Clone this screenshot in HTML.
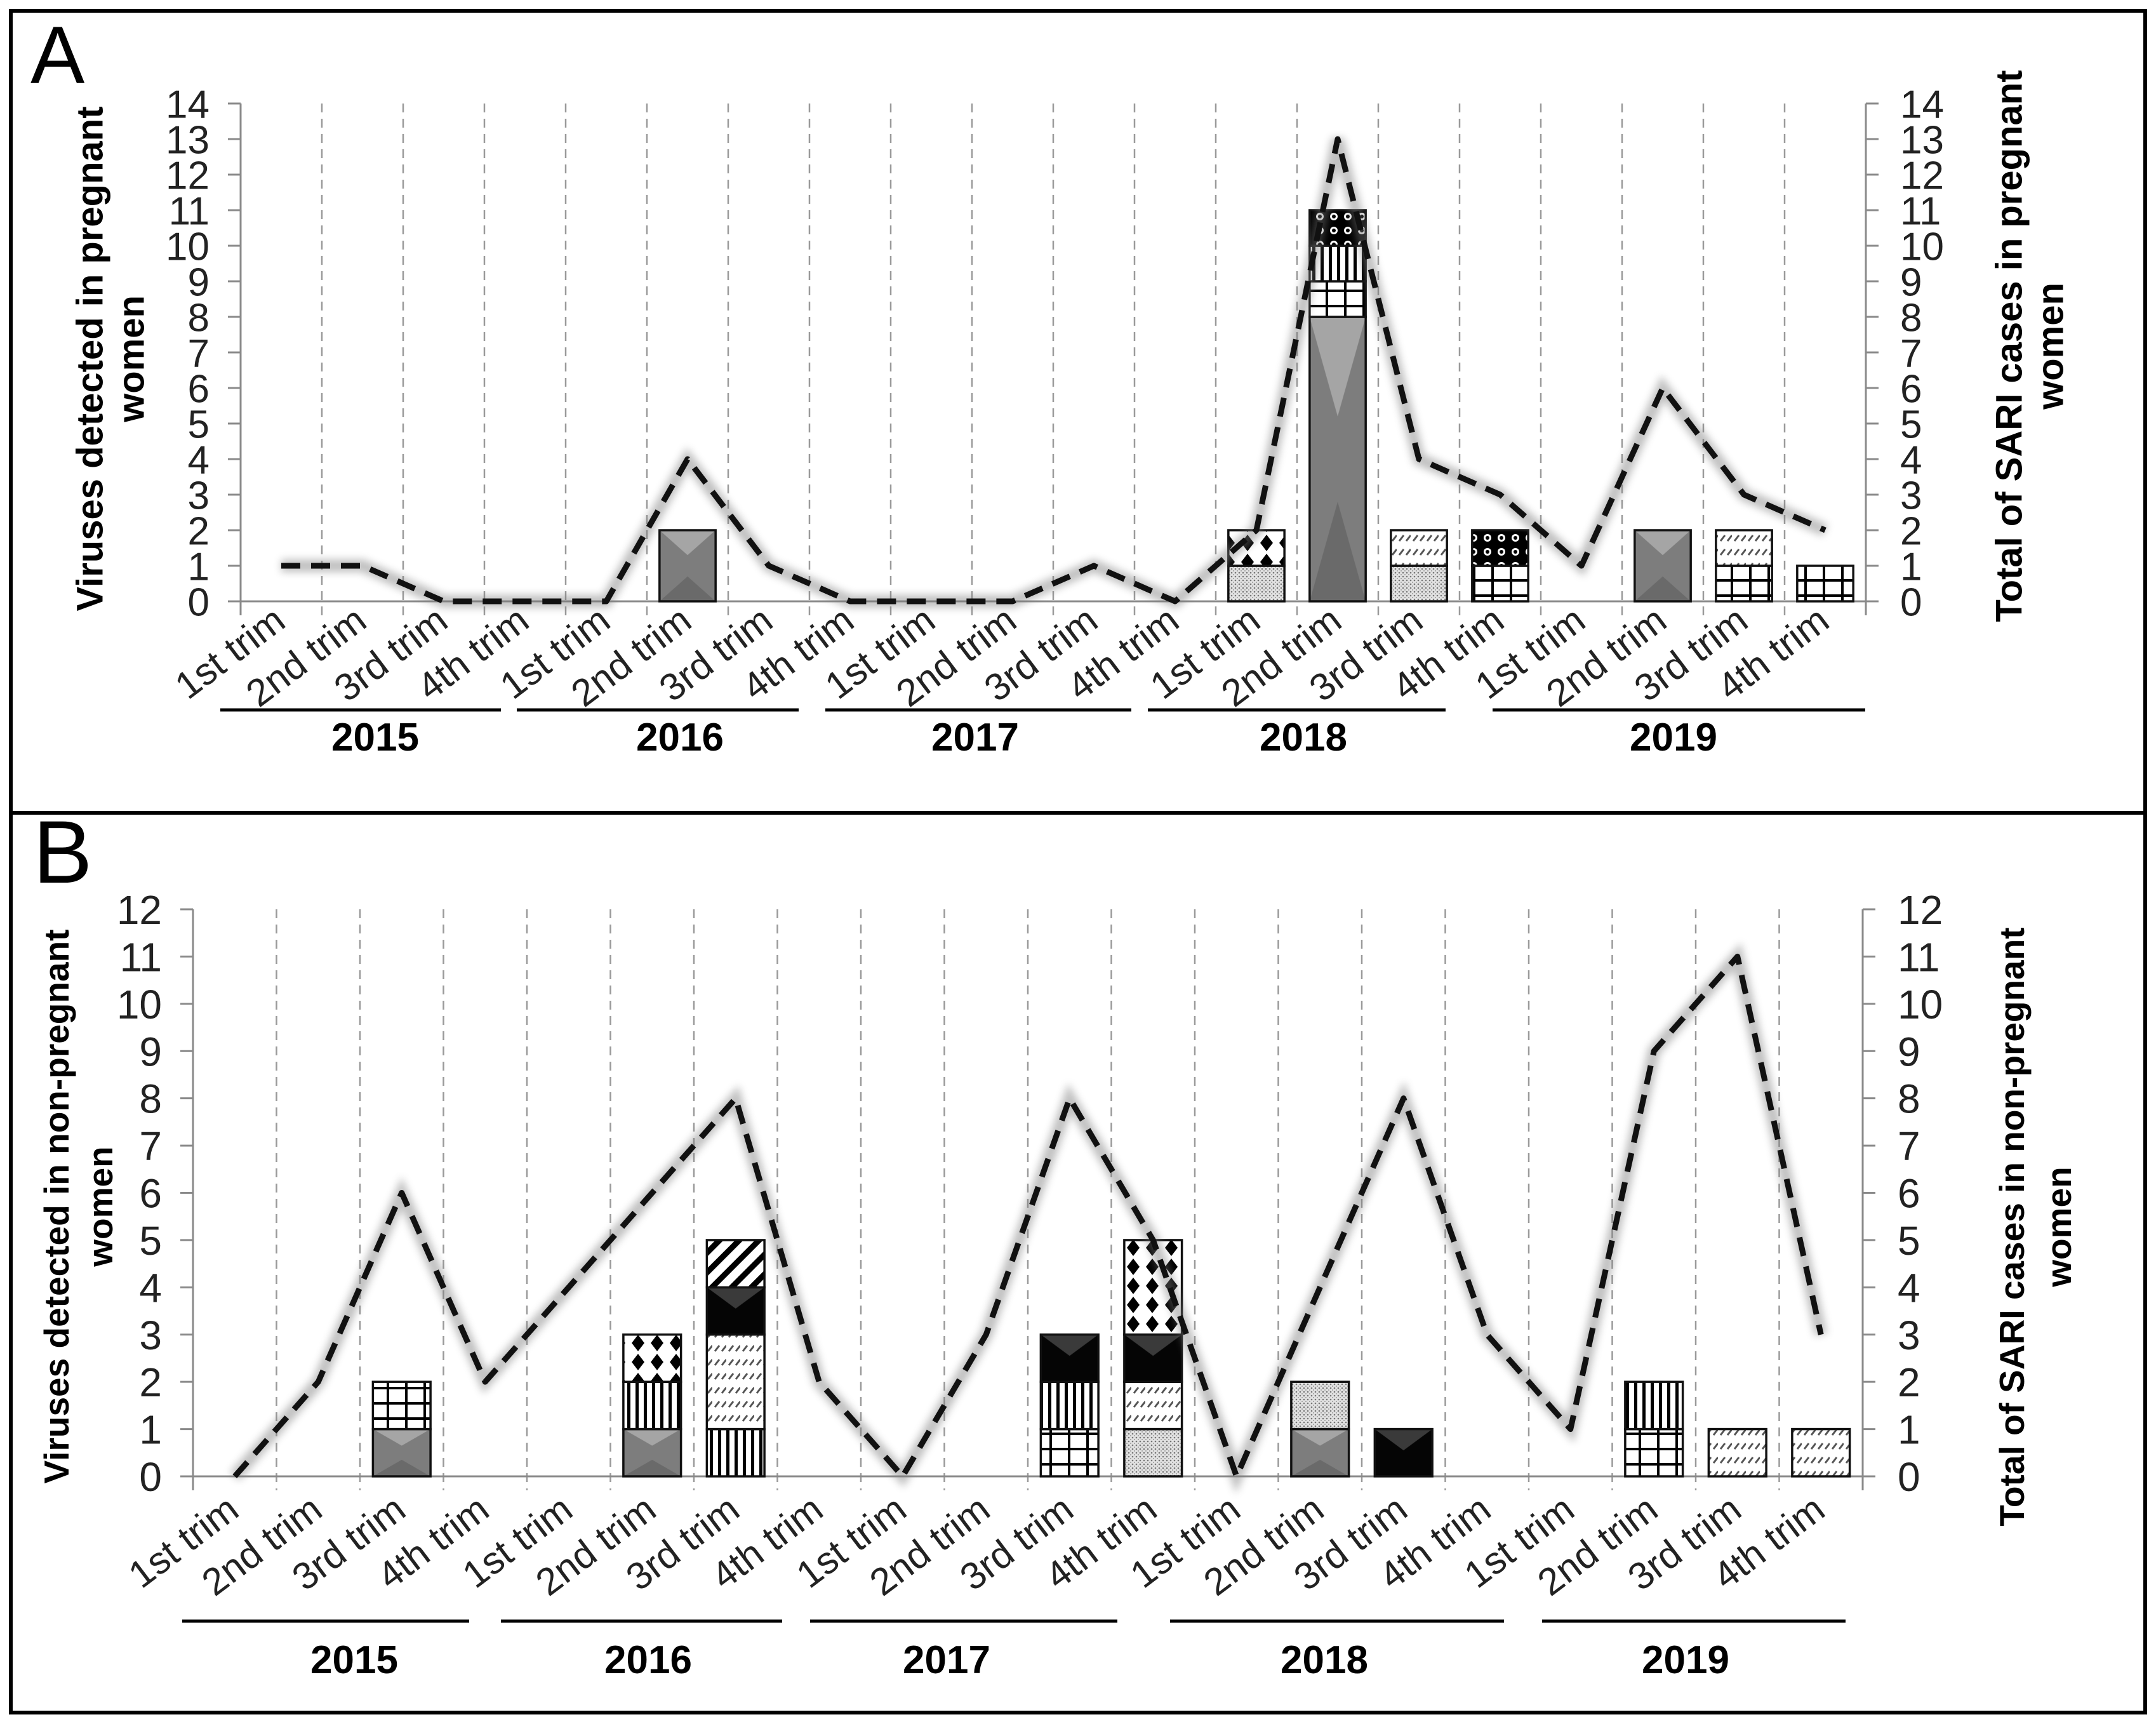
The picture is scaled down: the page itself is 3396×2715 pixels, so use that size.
<!DOCTYPE html>
<html><head><meta charset="utf-8"><style>
html,body{margin:0;padding:0;background:#fff;}
svg{display:block;font-family:"Liberation Sans",Arial,sans-serif;}
</style></head><body>
<svg id="fig" xmlns="http://www.w3.org/2000/svg" width="3396" height="2715" viewBox="0 0 3396 2715">
<defs>
<pattern id="pGray" patternUnits="objectBoundingBox" width="1" height="1" patternContentUnits="objectBoundingBox"><rect width="1" height="1" fill="#7d7d7d"/><polygon points="0,0 1,0 0.5,0.35" fill="#a5a5a5"/><polygon points="0,1 1,1 0.5,0.65" fill="#6a6a6a"/></pattern>
<pattern id="pBlack" patternUnits="objectBoundingBox" width="1" height="1" patternContentUnits="objectBoundingBox"><rect width="1" height="1" fill="#050505"/><polygon points="0,0 1,0 0.5,0.45" fill="#3a3a3a"/></pattern>
<pattern id="pGrid" patternUnits="userSpaceOnUse" width="29" height="24"><rect width="29" height="24" fill="#fff"/><rect x="0" y="0" width="29" height="4" fill="#000"/><rect x="0" y="0" width="4" height="24" fill="#000"/></pattern>
<pattern id="pVstripes" patternUnits="userSpaceOnUse" width="13" height="10"><rect width="13" height="10" fill="#fff"/><rect x="0" y="0" width="5" height="10" fill="#000"/></pattern>
<pattern id="pDiamonds" patternUnits="userSpaceOnUse" width="30" height="30"><rect width="30" height="30" fill="#fff"/><polygon points="15,2 25,15 15,28 5,15" fill="#000"/></pattern>
<pattern id="pDots" patternUnits="userSpaceOnUse" width="6" height="6"><rect width="6" height="6" fill="#e2e2e2"/><circle cx="2" cy="2" r="1.3" fill="#777"/><circle cx="5" cy="5" r="1" fill="#999"/></pattern>
<pattern id="pCircles" patternUnits="userSpaceOnUse" width="22" height="22"><rect width="22" height="22" fill="#000"/><circle cx="11" cy="11" r="6" fill="#fff"/><circle cx="11" cy="11" r="3" fill="#000"/></pattern>
<pattern id="pHatch" patternUnits="userSpaceOnUse" width="22" height="22"><rect width="22" height="22" fill="#fff"/><line x1="4" y1="16" x2="11" y2="7" stroke="#555" stroke-width="3"/><line x1="15" y1="16" x2="22" y2="7" stroke="#555" stroke-width="3"/></pattern>
<pattern id="pBolddiag" patternUnits="userSpaceOnUse" width="22" height="22" patternTransform="rotate(45)"><rect width="22" height="22" fill="#fff"/><rect x="0" y="0" width="9" height="22" fill="#000"/></pattern>
<filter id="blur" x="-10%" y="-10%" width="120%" height="120%"><feGaussianBlur stdDeviation="6"/></filter>
</defs>
<rect x="17" y="17" width="3362" height="2680" fill="none" stroke="#000" stroke-width="6"/>
<line x1="17" y1="1280" x2="3379" y2="1280" stroke="#000" stroke-width="6"/>
<text x="48" y="131" font-size="128">A</text>
<text x="52" y="1390" font-size="140">B</text>
<g id="panels"></g>
</svg>
<script>
const trims = ["1st trim","2nd trim","3rd trim","4th trim"];
const years = ["2015","2016","2017","2018","2019"];
const sariA = [1,1,0,0, 0,4,1,0, 0,0,1,0, 2,13,4,3, 1,6,3,2];
const sariB = [0,2,6,2, 4,6,8,2, 0,3,8,5, 0,4,8,3, 1,9,11,3];
const seriesNames = ["gray","dots","grid","vstripes","hatch","black","diamonds","circles","bolddiag"];
const grayA     = [0,0,0,0, 0,2,0,0, 0,0,0,0, 0,8,0,0, 0,2,0,0];
const dotsA     = [0,0,0,0, 0,0,0,0, 0,0,0,0, 1,0,1,0, 0,0,0,0];
const gridA     = [0,0,0,0, 0,0,0,0, 0,0,0,0, 0,1,0,1, 0,0,1,1];
const vstripesA = [0,0,0,0, 0,0,0,0, 0,0,0,0, 0,1,0,0, 0,0,0,0];
const hatchA    = [0,0,0,0, 0,0,0,0, 0,0,0,0, 0,0,1,0, 0,0,1,0];
const blackA    = [0,0,0,0, 0,0,0,0, 0,0,0,0, 0,0,0,0, 0,0,0,0];
const diamondsA = [0,0,0,0, 0,0,0,0, 0,0,0,0, 1,0,0,0, 0,0,0,0];
const circlesA  = [0,0,0,0, 0,0,0,0, 0,0,0,0, 0,1,0,1, 0,0,0,0];
const bolddiagA = [0,0,0,0, 0,0,0,0, 0,0,0,0, 0,0,0,0, 0,0,0,0];
const grayB     = [0,0,1,0, 0,1,0,0, 0,0,0,0, 0,1,0,0, 0,0,0,0];
const dotsB     = [0,0,0,0, 0,0,0,0, 0,0,0,1, 0,1,0,0, 0,0,0,0];
const gridB     = [0,0,1,0, 0,0,0,0, 0,0,1,0, 0,0,0,0, 0,1,0,0];
const vstripesB = [0,0,0,0, 0,1,1,0, 0,0,1,0, 0,0,0,0, 0,1,0,0];
const hatchB    = [0,0,0,0, 0,0,2,0, 0,0,0,1, 0,0,0,0, 0,0,1,1];
const blackB    = [0,0,0,0, 0,0,1,0, 0,0,1,1, 0,0,1,0, 0,0,0,0];
const diamondsB = [0,0,0,0, 0,1,0,0, 0,0,0,2, 0,0,0,0, 0,0,0,0];
const circlesB  = [0,0,0,0, 0,0,0,0, 0,0,0,0, 0,0,0,0, 0,0,0,0];
const bolddiagB = [0,0,0,0, 0,0,1,0, 0,0,0,0, 0,0,0,0, 0,0,0,0];

const NS="http://www.w3.org/2000/svg";
const root=document.getElementById('panels');
function el(tag,attrs,parent){const e=document.createElementNS(NS,tag);for(const k in attrs)e.setAttribute(k,attrs[k]);(parent||root).appendChild(e);return e;}
const fills={gray:"url(#pGray)",dots:"url(#pDots)",grid:"url(#pGrid)",vstripes:"url(#pVstripes)",hatch:"url(#pHatch)",black:"url(#pBlack)",diamonds:"url(#pDiamonds)",circles:"url(#pCircles)",bolddiag:"url(#pBolddiag)"};

function panel(cfg){
  const g=el('g',{});
  
  
  const n=20, cw=(cfg.x1-cfg.x0)/n;
  const xs=i=>cfg.x0+cw*(i+0.5);
  const ys=v=>cfg.y0-(cfg.y0-cfg.yTop)*v/cfg.max;
  for(let i=1;i<n;i++){
    const x=cfg.x0+cw*i;
    const l=el('line',{x1:x,y1:cfg.yTop,x2:x,y2:cfg.y0+22,stroke:"#9a9a9a","stroke-width":2.5,"stroke-dasharray":"14 10"},g);
    
    
  }
  const ax=el('path',{d:`M${cfg.x0},${cfg.yTop} L${cfg.x0},${cfg.y0} L${cfg.x1},${cfg.y0} L${cfg.x1},${cfg.yTop}`,fill:"none",stroke:"#8a8a8a","stroke-width":3},g);
  
  
  for(let v=0;v<=cfg.max;v++){
    const y=ys(v);
    el('line',{x1:cfg.x0-20,y1:y,x2:cfg.x0,y2:y,stroke:"#8a8a8a","stroke-width":3},g);
    el('line',{x1:cfg.x1,y1:y,x2:cfg.x1+20,y2:y,stroke:"#8a8a8a","stroke-width":3},g);
    const tl=el('text',{x:cfg.lx,y:y+cfg.fs*0.36,"font-size":cfg.fs,"text-anchor":"end",fill:"#222"},g);
    tl.textContent=v;
    
    
    const tr=el('text',{x:cfg.rx,y:y+cfg.fs*0.36,"font-size":cfg.fs,"text-anchor":"start",fill:"#222"},g);
    tr.textContent=v;
    
    
  }
  el('line',{x1:cfg.x0,y1:cfg.y0,x2:cfg.x0,y2:cfg.y0+22,stroke:"#8a8a8a","stroke-width":3},g);
  el('line',{x1:cfg.x1,y1:cfg.y0,x2:cfg.x1,y2:cfg.y0+22,stroke:"#8a8a8a","stroke-width":3},g);
  const bw=cw*0.69;
  for(let i=0;i<n;i++){
    let acc=0;
    seriesNames.forEach(s=>{
      const v=cfg.series[s][i];
      if(!v)return;
      const yTopB=ys(acc+v), yBot=ys(acc);
      const r=el('rect',{x:xs(i)-bw/2,y:yTopB,width:bw,height:yBot-yTopB,fill:fills[s],stroke:"#111","stroke-width":3.5},g);
      
      
      acc+=v;
    });
  }
  const pts=cfg.sari.map((v,i)=>xs(i)+","+ys(v)).join(" ");
  el('polyline',{points:pts,fill:"none",stroke:"#777","stroke-width":20,opacity:0.45,filter:"url(#blur)"},g);
  const pl=el('polyline',{points:pts,fill:"none",stroke:"#111","stroke-width":9,"stroke-dasharray":"30 17","stroke-linejoin":"round"},g);
  
  
  for(let i=0;i<n;i++){
    const x=xs(i)+10, y=cfg.labY;
    const t=el('text',{x:x,y:y,"font-size":cfg.xfs,"text-anchor":"end",fill:"#222",transform:`rotate(${cfg.ang} ${x} ${y})`},g);
    t.textContent=trims[i%4];
    
    
  }
  years.forEach((yr,k)=>{
    const [a,b]=cfg.yearLines[k];
    const l=el('line',{x1:a,y1:cfg.yearLineY,x2:b,y2:cfg.yearLineY,stroke:"#000","stroke-width":5},g);
    
    
    const t=el('text',{x:cfg.yearX[k],y:cfg.yearY,"font-size":cfg.yfs,"font-weight":"bold","text-anchor":"middle",fill:"#000"},g);
    t.textContent=yr;
    
    
  });
  function title(lines,xs2,cy,nm){
    lines.forEach((s,k)=>{
      const t=el('text',{x:xs2[k],y:cy,"font-size":cfg.tfs,"font-weight":"bold","text-anchor":"middle",fill:"#000",transform:`rotate(-90 ${xs2[k]} ${cy})`,"dominant-baseline":"central"},g);
      t.textContent=s;
      
      
    });
  }
  title(cfg.ltitle,cfg.ltx,cfg.lty,'left-axis-title');
  title(cfg.rtitle,cfg.rtx,cfg.rty,'right-axis-title');
}

panel({name:"panel-a",x0:379,x1:2939,yTop:163,y0:947,max:14,fs:62,lx:330,rx:2993,
  sari:sariA,
  series:{gray:grayA,dots:dotsA,grid:gridA,vstripes:vstripesA,hatch:hatchA,black:blackA,diamonds:diamondsA,circles:circlesA,bolddiag:bolddiagA},
  labY:985,ang:-37,xfs:60,
  yearLines:[[347,789],[814,1258],[1300,1782],[1808,2277],[2351,2938]],yearLineY:1118,
  yearX:[591,1071,1536,2053,2636],yearY:1182,yfs:62,
  ltitle:["Viruses detected in pregnant","women"],ltx:[142,207],lty:565,tfs:58,
  rtitle:["Total of SARI cases in pregnant","women"],rtx:[3165,3230],rty:545,
});
panel({name:"panel-b",x0:304,x1:2934,yTop:1432,y0:2325,max:12,fs:64,lx:255,rx:2989,
  sari:sariB,
  series:{gray:grayB,dots:dotsB,grid:gridB,vstripes:vstripesB,hatch:hatchB,black:blackB,diamonds:diamondsB,circles:circlesB,bolddiag:bolddiagB},
  labY:2385,ang:-37,xfs:60,
  yearLines:[[287,739],[789,1232],[1276,1760],[1843,2369],[2429,2907]],yearLineY:2553,
  yearX:[558,1021,1491,2086,2655],yearY:2635,yfs:62,
  ltitle:["Viruses detected in non-pregnant","women"],ltx:[89,158],lty:1900,tfs:55,
  rtitle:["Total of SARI cases in non-pregnant","women"],rtx:[3169,3243],rty:1932,
});
</script>
</body></html>
